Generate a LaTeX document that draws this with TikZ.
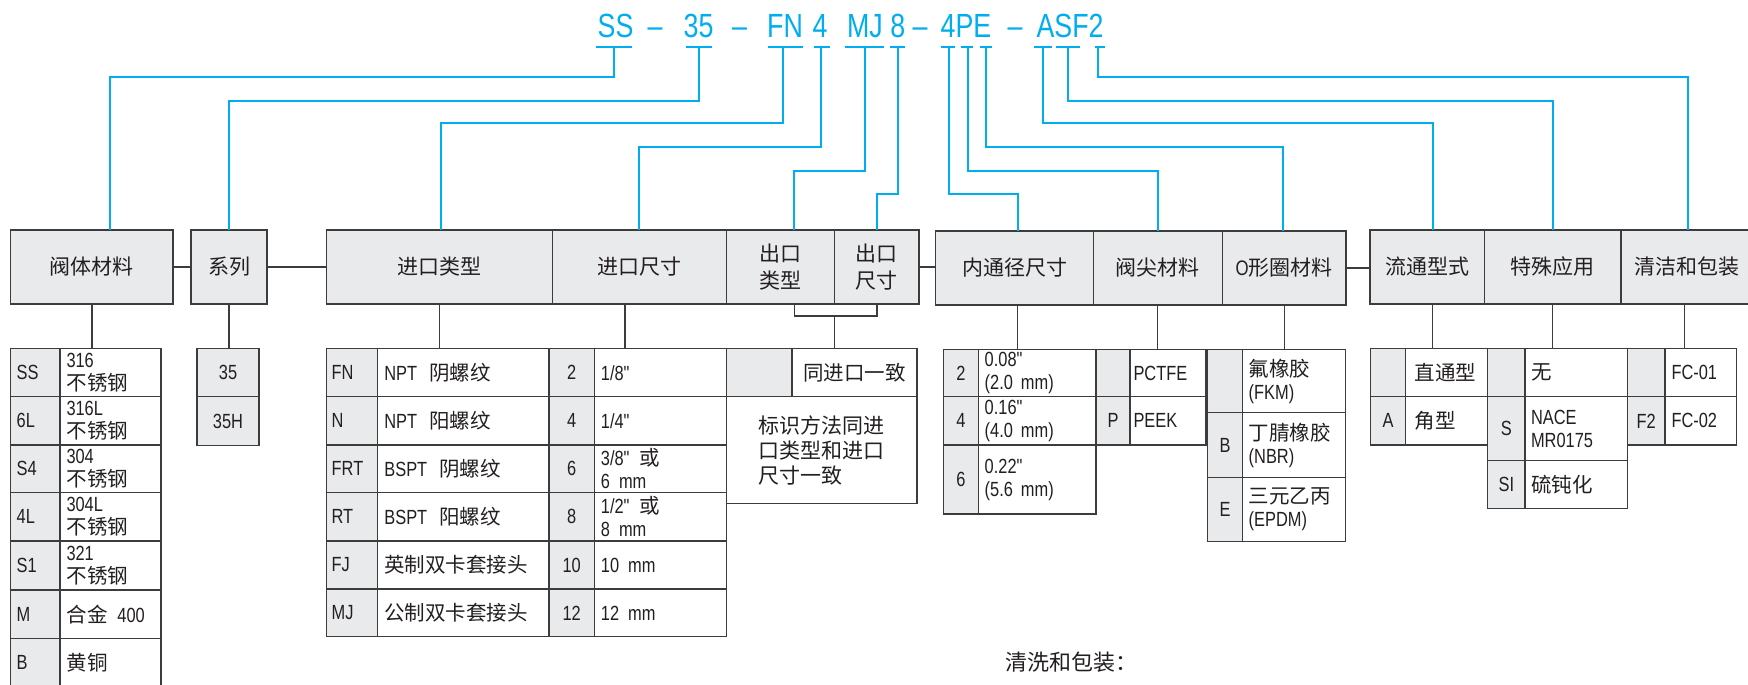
\documentclass[tikz,border=0pt]{standalone}
\usepackage{fontspec}
\setmainfont{Noto Sans CJK SC}
\newfontfamily\lat[FakeStretch=0.8]{Liberation Sans}
\definecolor{cyx}{HTML}{00AEEF}
\definecolor{bdx}{HTML}{3C3C3C}
\definecolor{gbx}{HTML}{E9EAEC}
\definecolor{txx}{HTML}{231F20}
\newcommand\tabfont{\fontsize{20.5}{23}\selectfont}
\newcommand\tcc[7]{\pgfmathsetmacro\cellw{#4-#2}\pgfmathsetmacro\cellh{#5-#3}\node[#6,anchor=north west,minimum width=\cellw pt,minimum height=\cellh pt] (#1) at (#2,#3) {#7};}
\newcommand\tlc[8]{\pgfmathsetmacro\cellh{#5-#3}\pgfmathsetmacro\cellt{#4-#2-2*#7}\node[#6,anchor=north west,minimum height=\cellh pt,inner xsep=#7pt,text width=\cellt pt,align=left] (#1) at (#2,#3) {#8};}
\tikzset{
 cellbase/.style={line width=1.3pt, draw=bdx, inner sep=0pt, outer sep=0pt, text=txx},
 hd/.style={cellbase, fill=gbx, font=\fontsize{21}{27}\selectfont, align=center},
 gcl/.style={cellbase, fill=gbx, font=\tabfont\lat},
 wc/.style={cellbase, fill=white, font=\tabfont},
 cyl/.style={draw=cyx, line width=2pt},
 ulx/.style={draw=cyx, line width=2.4pt},
 bln/.style={draw=bdx, line width=1.3pt},
 codex/.style={anchor=base, inner sep=0pt, text=cyx, font=\fontsize{33.5}{40}\selectfont\lat},
}
\begin{document}
\begin{tikzpicture}[x=1pt,y=-1pt]
\useasboundingbox (0,0) rectangle (1748,685);
\clip (0,0) rectangle (1748,685);
\fill[white] (0,0) rectangle (1748,685);

% code string
\node[codex] (k1) at (615.5,37.3) {SS};
\node[codex] (d1) at (655,37.3) {–};
\node[codex] (k2) at (698.5,37.3) {35};
\node[codex] (d2) at (739.5,37.3) {–};
\node[codex] (k3) at (785,37.3) {FN};
\node[codex] (k4) at (820,37.3) {4};
\node[codex] (k5) at (865,37.3) {MJ};
\node[codex] (k6) at (897.7,37.3) {8};
\node[codex] (d3) at (920,37.3) {–};
\node[codex] (k7) at (966,37.3) {4PE};
\node[codex] (d4) at (1015,37.3) {–};
\node[codex] (k8) at (1070,37.3) {ASF2};

% header boxes
\tcc{h1}{10.7}{230}{173}{304}{hd}{阀体材料}
\tcc{h2}{191}{230}{267}{304}{hd}{系列}
\tcc{h3}{326.7}{230}{552.3}{304}{hd}{进口类型}
\tcc{h4}{552.3}{230}{726.4}{304}{hd}{进口尺寸}
\tcc{h5}{726.4}{230}{834.7}{304}{hd}{出口\\类型}
\tcc{h6}{834.7}{230}{918.9}{304}{hd}{出口\\尺寸}
\tcc{h7}{935.7}{231}{1093.3}{305}{hd}{内通径尺寸}
\tcc{h8}{1093.3}{231}{1222.3}{305}{hd}{阀尖材料}
\tcc{h9}{1222.3}{231}{1346}{305}{hd}{{\lat O}形圈材料}
\tcc{h10}{1370}{230}{1484.3}{304}{hd}{流通型式}
\tcc{h11}{1484.3}{230}{1621}{304}{hd}{特殊应用}
\tcc{h12}{1621}{230}{1752}{304}{hd}{清洁和包装}

% blue connectors
\foreach \i/\a/\b/\v/\l/\t/\h in {
 1/595.5/632.3/614.4/76.7/109.5/h1,
 2/685.7/711.6/698.8/100.7/228.7/h2,
 3/767.7/803.2/783.2/123.3/441/h3,
 4/814.2/829.7/821/147.3/638.5/h4,
 5/845.2/884.1/864.8/170.7/794.3/h5,
 6/890/904.8/897.5/194/876.9/h6,
 7/941/955.4/948.5/194/1018/h7,
 8/960.6/972.6/967.5/170.7/1158/h8,
 9/979.5/991.6/985.7/147.3/1283.3/h9,
 10/1034/1051.8/1043.2/123.3/1432.7/h10,
 11/1056.3/1080/1068/100.7/1553.3/h11,
 12/1095/1105/1098.3/76.7/1688.3/h12}{
  \draw[ulx] (\a,47.3) -- (\b,47.3);
  \coordinate (u\i) at (\v,47.3);
  \coordinate (j\i) at (\t,\l);
  \draw[cyl] (u\i) |- (j\i) -- (j\i |- \h.north);
}

% header links
\draw[bln] (h1.east) -- (h2.west);
\draw[bln] (h2.east) -- (h3.west);
\draw[bln] (h6.east) -- (h6.east -| h7.west);
\draw[bln] (h9.east) -- (h9.east -| h10.west);

% body material table
\tlc{a1}{10.7}{348.7}{60}{396.7}{gcl}{6}{SS}
\tlc{b1}{60}{348.7}{161}{396.7}{wc}{6.5}{{\lat 316}\\不锈钢}
\tlc{a2}{10.7}{396.7}{60}{445}{gcl}{6}{6L}
\tlc{b2}{60}{396.7}{161}{445}{wc}{6.5}{{\lat 316L}\\不锈钢}
\tlc{a3}{10.7}{445}{60}{492.7}{gcl}{6}{S4}
\tlc{b3}{60}{445}{161}{492.7}{wc}{6.5}{{\lat 304}\\不锈钢}
\tlc{a4}{10.7}{492.7}{60}{541}{gcl}{6}{4L}
\tlc{b4}{60}{492.7}{161}{541}{wc}{6.5}{{\lat 304L}\\不锈钢}
\tlc{a5}{10.7}{541}{60}{590}{gcl}{6}{S1}
\tlc{b5}{60}{541}{161}{590}{wc}{6.5}{{\lat 321}\\不锈钢}
\tlc{a6}{10.7}{590}{60}{638.3}{gcl}{6}{M}
\tlc{b6}{60}{590}{161}{638.3}{wc}{6.5}{合金\hspace{10pt}{\lat 400}}
\tlc{a7}{10.7}{638.3}{60}{686.5}{gcl}{6}{B}
\tlc{b7}{60}{638.3}{161}{686.5}{wc}{6.5}{黄铜}

% series table
\tcc{s1}{197}{348.7}{259}{396.7}{gcl}{35}
\tcc{s2}{197}{396.7}{259}{445.7}{gcl}{35H}

% inlet type
\tlc{c1}{326.7}{348.7}{377.4}{396.7}{gcl}{5}{FN}
\tlc{dd1}{377.4}{348.7}{548.9}{396.7}{wc}{7}{{\lat NPT}\hspace{12pt}阴螺纹}
\tlc{c2}{326.7}{396.7}{377.4}{445}{gcl}{5}{N}
\tlc{dd2}{377.4}{396.7}{548.9}{445}{wc}{7}{{\lat NPT}\hspace{12pt}阳螺纹}
\tlc{c3}{326.7}{445}{377.4}{492.7}{gcl}{5}{FRT}
\tlc{dd3}{377.4}{445}{548.9}{492.7}{wc}{7}{{\lat BSPT}\hspace{12pt}阴螺纹}
\tlc{c4}{326.7}{492.7}{377.4}{541}{gcl}{5}{RT}
\tlc{dd4}{377.4}{492.7}{548.9}{541}{wc}{7}{{\lat BSPT}\hspace{12pt}阳螺纹}
\tlc{c5}{326.7}{541}{377.4}{589}{gcl}{5}{FJ}
\tlc{dd5}{377.4}{541}{548.9}{589}{wc}{7}{英制双卡套接头}
\tlc{c6}{326.7}{589}{377.4}{636.7}{gcl}{5}{MJ}
\tlc{dd6}{377.4}{589}{548.9}{636.7}{wc}{7}{公制双卡套接头}

% inlet size
\tcc{e1}{548.9}{348.7}{594.4}{396.7}{gcl}{2}
\tlc{f1}{594.4}{348.7}{726.4}{396.7}{wc}{6.5}{{\lat 1/8"}}
\tcc{e2}{548.9}{396.7}{594.4}{445}{gcl}{4}
\tlc{f2}{594.4}{396.7}{726.4}{445}{wc}{6.5}{{\lat 1/4"}}
\tcc{e3}{548.9}{445}{594.4}{492.7}{gcl}{6}
\tlc{f3}{594.4}{445}{726.4}{492.7}{wc}{6.5}{{\lat 3/8"}\hspace{10pt}或\\{\lat 6\hspace{9pt}mm}}
\tcc{e4}{548.9}{492.7}{594.4}{541}{gcl}{8}
\tlc{f4}{594.4}{492.7}{726.4}{541}{wc}{6.5}{{\lat 1/2"}\hspace{10pt}或\\{\lat 8\hspace{9pt}mm}}
\tcc{e5}{548.9}{541}{594.4}{589}{gcl}{10}
\tlc{f5}{594.4}{541}{726.4}{589}{wc}{6.5}{{\lat 10\hspace{9pt}mm}}
\tcc{e6}{548.9}{589}{594.4}{636.7}{gcl}{12}
\tlc{f6}{594.4}{589}{726.4}{636.7}{wc}{6.5}{{\lat 12\hspace{9pt}mm}}

% outlet
\tcc{g1}{726.4}{348.7}{791.9}{396.7}{gcl}{}
\tcc{g2}{791.9}{348.7}{917}{396.7}{wc}{同进口一致}
\tcc{g3}{726.4}{396.7}{917}{503.3}{wc,align=left,font=\fontsize{21}{25}\selectfont}{标识方法同进\\口类型和进口\\尺寸一致}

% bore
\tcc{m1}{943.3}{349.3}{978.7}{396.7}{gcl}{2}
\tlc{n1}{978.7}{349.3}{1096}{396.7}{wc}{6}{{\lat 0.08"}\\{\lat (2.0\hspace{8pt}mm)}}
\tcc{m2}{943.3}{396.7}{978.7}{445}{gcl}{4}
\tlc{n2}{978.7}{396.7}{1096}{445}{wc}{6}{{\lat 0.16"}\\{\lat (4.0\hspace{8pt}mm)}}
\tcc{m3}{943.3}{445}{978.7}{514}{gcl}{6}
\tlc{n3}{978.7}{445}{1096}{514}{wc}{6}{{\lat 0.22"}\\{\lat (5.6\hspace{8pt}mm)}}

% seat
\tcc{p1}{1096}{349.3}{1130}{396.7}{gcl}{}
\tlc{q1}{1130}{349.3}{1206}{396.7}{wc}{3.5}{{\lat PCTFE}}
\tcc{p2}{1096}{396.7}{1130}{445}{gcl}{P}
\tlc{q2}{1130}{396.7}{1206}{445}{wc}{3.5}{{\lat PEEK}}

% o-ring
\tcc{o1}{1207.3}{349.3}{1242.7}{412.7}{gcl}{}
\tlc{w1}{1242.7}{349.3}{1345.7}{412.7}{wc}{6}{氟橡胶\\{\lat (FKM)}}
\tcc{o2}{1207.3}{412.7}{1242.7}{477.3}{gcl}{B}
\tlc{w2}{1242.7}{412.7}{1345.7}{477.3}{wc}{6}{丁腈橡胶\\{\lat (NBR)}}
\tcc{o3}{1207.3}{477.3}{1242.7}{541.7}{gcl}{E}
\tlc{w3}{1242.7}{477.3}{1345.7}{541.7}{wc}{6}{三元乙丙\\{\lat (EPDM)}}

% flow
\tcc{x1}{1370.7}{348.7}{1405.7}{396.7}{gcl}{}
\tlc{y1}{1405.7}{348.7}{1487.7}{396.7}{wc}{9}{直通型}
\tcc{x2}{1370.7}{396.7}{1405.7}{445}{gcl}{A}
\tlc{y2}{1405.7}{396.7}{1487.7}{445}{wc}{9}{角型}

% special
\tcc{z1}{1487.7}{348.7}{1525}{396.7}{gcl}{}
\tlc{zz1}{1525}{348.7}{1627.3}{396.7}{wc}{6}{无}
\tcc{z2}{1487.7}{396.7}{1525}{460.7}{gcl}{S}
\tlc{zz2}{1525}{396.7}{1627.3}{460.7}{wc}{6}{{\lat NACE}\\{\lat MR0175}}
\tcc{z3}{1487.7}{460.7}{1525}{508.7}{gcl}{SI}
\tlc{zz3}{1525}{460.7}{1627.3}{508.7}{wc}{6}{硫钝化}

% cleaning
\tcc{v1}{1627.3}{348.7}{1665}{396.7}{gcl}{}
\tlc{vv1}{1665}{348.7}{1736.7}{396.7}{wc}{6.5}{{\lat FC-01}}
\tcc{v2}{1627.3}{396.7}{1665}{445}{gcl}{F2}
\tlc{vv2}{1665}{396.7}{1736.7}{445}{wc}{6.5}{{\lat FC-02}}

% header to table links
\draw[bln] (h1.south) -- (h1.south |- a1.north);
\draw[bln] (h2.south) -- (h2.south |- s1.north);
\draw[bln] (h3.south) -- (h3.south |- c1.north);
\coordinate (v4) at (625,304);
\draw[bln] (v4) -- (v4 |- e1.north);
\coordinate (bk1) at (794.3,316);
\coordinate (bk2) at (876.9,316);
\coordinate (bk3) at (834.7,316);
\draw[bln] (h5.south -| bk1) -- (bk1) -- (bk2) -- (h6.south -| bk2);
\draw[bln] (bk3) -- (bk3 |- g1.north);
\coordinate (v7) at (1017.7,305);
\draw[bln] (v7) -- (v7 |- m1.north);
\draw[bln] (h8.south) -- (h8.south |- p1.north);
\draw[bln] (h9.south) -- (h9.south |- o1.north);
\coordinate (v10) at (1432.7,304);
\draw[bln] (v10) -- (v10 |- x1.north);
\draw[bln] (h11.south) -- (h11.south |- z1.north);
\coordinate (v12) at (1684.3,304);
\draw[bln] (v12) -- (v12 |- v1.north);

% bottom note
\node[anchor=west, inner sep=0pt, text=txx, font=\fontsize{22}{26}\selectfont] (note) at (1005,662) {清洗和包装：};
\end{tikzpicture}
\end{document}
